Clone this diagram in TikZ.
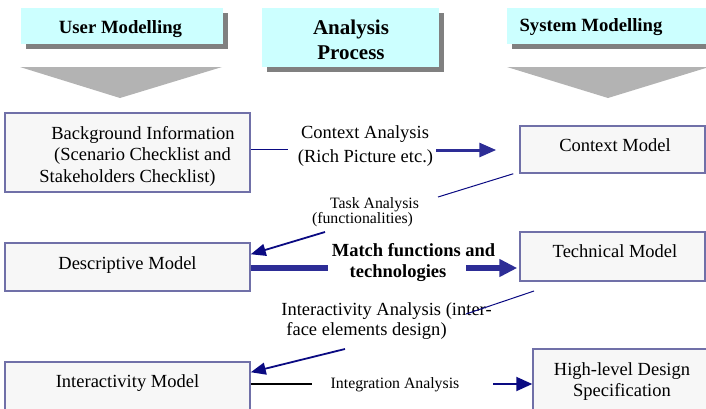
\documentclass[tikz,border=0pt]{standalone}
\usepackage{fontspec}
\setmainfont{Liberation Serif}
\usetikzlibrary{arrows.meta,shadows}

\definecolor{headfill}{RGB}{204,255,255}
\definecolor{shadowgray}{RGB}{128,128,128}
\definecolor{funnelgray}{RGB}{179,179,179}
\definecolor{boxfill}{RGB}{247,247,247}
\definecolor{boxedge}{RGB}{112,112,168}
\definecolor{flowblue}{RGB}{45,45,150}
\definecolor{linknavy}{RGB}{10,10,130}

\tikzset{
  header/.style={rectangle, fill=headfill, draw=none, inner sep=0pt,
    drop shadow={shadow xshift=5pt, shadow yshift=-5pt, fill=shadowgray, opacity=1}},
  modelbox/.style={rectangle, fill=boxfill, draw=boxedge, line width=1.5pt, inner sep=0pt},
  body/.style={anchor=base, inner sep=0pt, font=\fontsize{18.5}{22}\selectfont},
  note/.style={anchor=base, inner sep=0pt, font=\fontsize{15.8}{19}\selectfont},
  headtext/.style={anchor=base, inner sep=0pt, font=\fontsize{18.7}{22}\selectfont\bfseries},
  boldtext/.style={anchor=base, inner sep=0pt, font=\fontsize{18.5}{22}\selectfont\bfseries},
  thinlink/.style={draw=linknavy, line width=1pt},
  slantarrow/.style={draw=linknavy, line width=1.8pt, -{Triangle[length=15pt,width=12pt]}},
  midarrow/.style={draw=flowblue, line width=3pt, -{Triangle[length=17pt,width=14pt]}},
  bigarrow/.style={draw=flowblue, line width=5.5pt, -{Triangle[length=18pt,width=17pt]}},
  bar/.style={draw=flowblue, line width=5.5pt},
  funnel/.style={fill=funnelgray, draw=none}
}

\begin{document}
\begin{tikzpicture}[x=1pt, y=-1pt]
\useasboundingbox (0,0) rectangle (706,408);
\clip (0,0) rectangle (706,408);

% column headers
\node[header, minimum width=202pt, minimum height=36pt] (userhead) at (122,26) {};
\node[header, minimum width=177pt, minimum height=59pt] (prochead) at (350.5,37.5) {};
\node[header, minimum width=213pt, minimum height=36pt] (syshead) at (613.5,26) {};
\node[headtext] (userlbl) at (120.5,33) {User Modelling};
\node[headtext, font=\fontsize{21}{25}\selectfont\bfseries] (proclbl1) at (351,34) {Analysis};
\node[headtext, font=\fontsize{21}{25}\selectfont\bfseries] (proclbl2) at (351,59) {Process};
\node[headtext] (syslbl) at (591,31) {System Modelling};

% funnels under the side headers
\fill[funnel] (20,67) -- (222,67) -- (120,98) -- cycle;
\fill[funnel] (507,67) -- (709,67) -- (608,98) -- cycle;

% model boxes
\node[modelbox, minimum width=245pt, minimum height=79pt] (bg) at (127.5,152.5) {};
\node[modelbox, minimum width=185pt, minimum height=47pt] (ctx) at (612.5,149.5) {};
\node[modelbox, minimum width=245pt, minimum height=48pt] (desc) at (127.5,267) {};
\node[modelbox, minimum width=185pt, minimum height=49pt] (tech) at (612.5,256.5) {};
\node[modelbox, minimum width=245pt, minimum height=60pt] (inter) at (127.5,392) {};
\node[modelbox, minimum width=180pt, minimum height=72pt] (hld) at (623,385) {};

% box texts
\node[body] (bgl1) at (143,139) {Background Information};
\node[body] (bgl2) at (142.5,160) {(Scenario Checklist and};
\node[body] (bgl3) at (127.5,182) {Stakeholders Checklist)};
\node[body] (ctxl) at (615,151) {Context Model};
\node[body] (descl) at (127.5,269) {Descriptive Model};
\node[body] (techl) at (615,257) {Technical Model};
\node[body] (interl) at (127.5,387) {Interactivity Model};
\node[body] (hldl1) at (622,375) {High-level Design};
\node[body] (hldl2) at (622,396) {Specification};

% analysis step labels
\node[body] (cal1) at (365,138) {Context Analysis};
\node[body] (cal2) at (365.5,162) {(Rich Picture etc.)};
\node[note] (tal1) at (374.5,208) {Task Analysis};
\node[note] (tal2) at (362.5,223) {(functionalities)};
\node[boldtext] (mfl1) at (413.5,256) {Match functions and};
\node[boldtext] (mfl2) at (398,277) {technologies};
\node[body] (ial1) at (386.5,315) {Interactivity Analysis (inter-};
\node[body] (ial2) at (366.5,335) {face elements design)};
\node[note] (igl) at (395,388) {Integration Analysis};

% free ends of the connectors
\coordinate (caIn) at (288,149);
\coordinate (caOut) at (436,150);
\coordinate (taIn) at (438,197);
\coordinate (taOut) at (325,232);
\coordinate (mfIn) at (328,268);
\coordinate (mfOut) at (466,268);
\coordinate (iaStart) at (534,291);
\coordinate (iaIn) at (466,314);
\coordinate (iaOut) at (345,349);
\coordinate (igIn) at (312,384);
\coordinate (igOut) at (493,384);

% context analysis
\draw[thinlink] (bg.east |- caIn) -- (caIn);
\draw[midarrow, shorten >=23pt] (caOut) -- (ctx.west |- caOut);

% task analysis
\draw[thinlink] ([xshift=-6pt]ctx.south west) -- (taIn);
\draw[slantarrow] (taOut) -- ([yshift=-12pt]desc.north east);

% matching functions and technologies
\draw[bar] (desc.east |- mfIn) -- (mfIn);
\draw[bigarrow, shorten >=2pt] (mfOut) -- (tech.west |- mfOut);

% interactivity analysis
\draw[thinlink] (iaStart) -- (iaIn);
\draw[slantarrow] (iaOut) -- ([yshift=-11pt]inter.north east);

% integration analysis
\draw[line width=2pt, black] (inter.east |- igIn) -- (igIn);
\draw[draw=linknavy, line width=2pt, -{Triangle[length=16pt,width=14pt]}] (igOut) -- (hld.west |- igOut);
\end{tikzpicture}
\end{document}
